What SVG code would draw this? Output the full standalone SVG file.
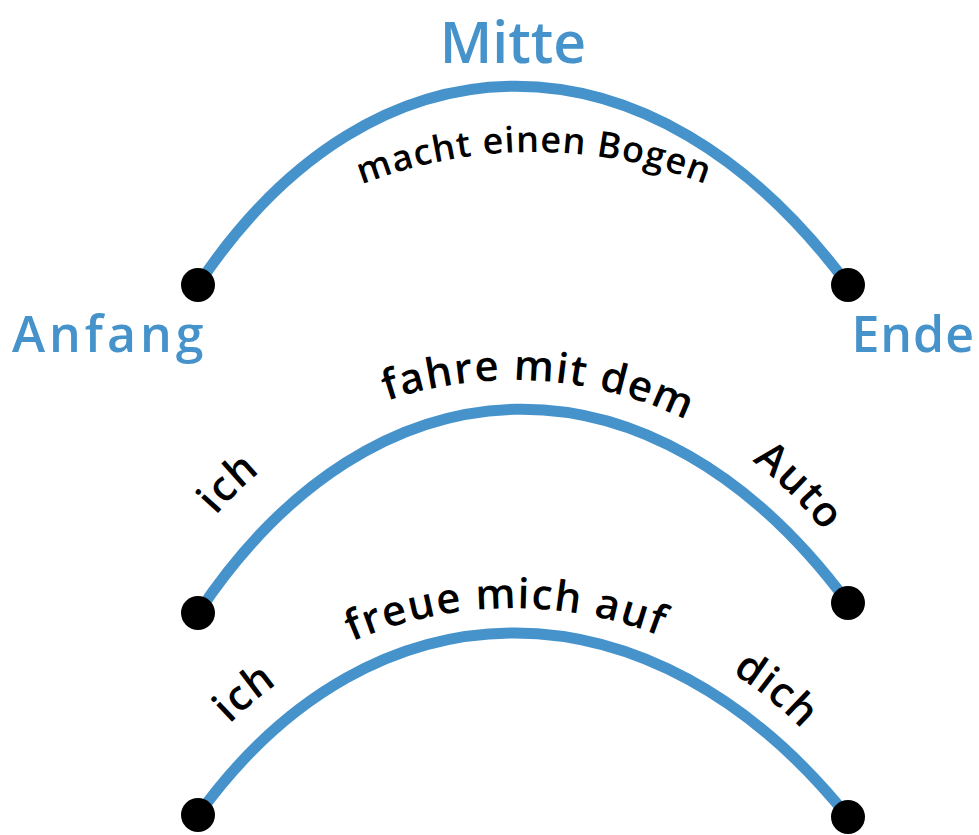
<svg xmlns="http://www.w3.org/2000/svg" xmlns:xlink="http://www.w3.org/1999/xlink" width="979" height="835" viewBox="0 0 979 835">
<style>
.arc{fill:none;stroke:#4693cb;stroke-width:11;stroke-linecap:round}
.dot{fill:#000}
.lbl{font-family:"Open Sans","Noto Sans","Liberation Sans",sans-serif;font-weight:600;fill:#4693cb}
.t{font-family:"Open Sans","Noto Sans","Liberation Sans",sans-serif;font-weight:600;fill:#000;font-size:42px;letter-spacing:1.5px}
</style>
<defs>
<path id="p1" d="M339,194 A474,474 0 0 1 729,194"/>
<path id="p2" d="M125,705.6 A394,394 0 0 1 901,705.6"/>
<path id="p3" d="M114.2,942.7 A405,405 0 0 1 911.8,942.7"/>
</defs>
<rect width="979" height="835" fill="#fff"/>
<g id="labels">
<text class="lbl" x="513" y="63" font-size="57" text-anchor="middle">Mitte</text>
<text class="lbl" x="12" y="352" font-size="50" letter-spacing="4">Anfang</text>
<text class="lbl" x="975" y="352" font-size="50" text-anchor="end" letter-spacing="1">Ende</text>
</g>
<g id="arc1">
<path class="arc" d="M198,285 C374,20 652,20 848,285"/>
<circle class="dot" cx="198" cy="285" r="17"/>
<circle class="dot" cx="848" cy="285" r="17"/>
<text class="t" style="font-size:36px;letter-spacing:1px"><textPath href="#p1" startOffset="50%" text-anchor="middle">macht einen Bogen</textPath></text>
</g>
<g id="arc2">
<path class="arc" d="M198,613 C374,348 652,338 848,603"/>
<circle class="dot" cx="198" cy="613" r="17"/>
<circle class="dot" cx="848" cy="603" r="17"/>
<text class="t"><textPath href="#p2" startOffset="245" text-anchor="middle">ich</textPath></text>
<text class="t"><textPath href="#p2" startOffset="576" text-anchor="middle">fahre mit dem</textPath></text>
<text class="t"><textPath href="#p2" startOffset="858" text-anchor="middle">Auto</textPath></text>
</g>
<g id="arc3">
<path class="arc" d="M198,815 C374,571 652,573 848,817"/>
<circle class="dot" cx="198" cy="815" r="17"/>
<circle class="dot" cx="848" cy="817" r="17"/>
<text class="t"><textPath href="#p3" startOffset="283" text-anchor="middle">ich</textPath></text>
<text class="t"><textPath href="#p3" startOffset="558" text-anchor="middle">freue mich auf</textPath></text>
<text class="t"><textPath href="#p3" startOffset="842" text-anchor="middle">dich</textPath></text>
</g>
</svg>
